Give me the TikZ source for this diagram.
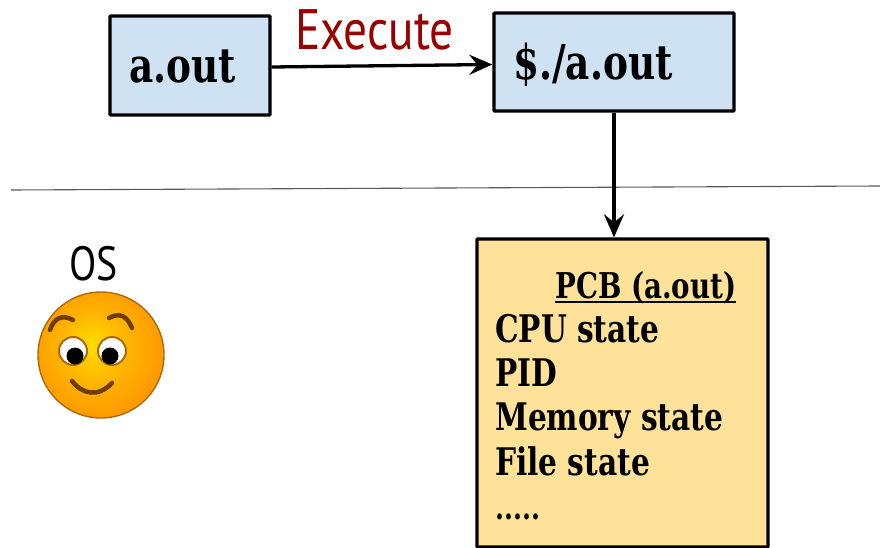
\documentclass[tikz,border=0pt]{standalone}
\usepackage{fontspec}
\usetikzlibrary{arrows.meta}
\setmainfont{DejaVu Serif}
\newfontfamily\boxfont[FakeStretch=0.78]{DejaVu Serif}
\newfontfamily\labfont[FakeStretch=0.83]{PT Sans}
\definecolor{fy}{RGB}{255,222,0}
\definecolor{fm}{RGB}{255,180,0}
\definecolor{fo}{RGB}{255,142,0}
\pgfdeclareradialshading{facesh}{\pgfpoint{-4bp}{4bp}}{
  color(0bp)=(fy); color(14bp)=(fm); color(32bp)=(fo); color(50bp)=(fo)}
\definecolor{facebrown}{RGB}{176,104,10}
\definecolor{browdark}{RGB}{112,60,0}
\definecolor{bluefill}{RGB}{207,226,243}
\definecolor{sandfill}{RGB}{255,226,153}
\definecolor{execred}{RGB}{153,0,0}
\definecolor{rulegray}{RGB}{89,89,89}
\tikzset{
  procbox/.style={draw=black,line width=3.3pt,fill=bluefill,rounded corners=0.8pt,inner sep=0pt},
  link/.style={draw=black,line width=3.3pt,-{Stealth[length=23pt,width=20pt,inset=8pt]}},
  boxtext/.style={font=\boxfont\bfseries\fontsize{48}{48}\selectfont,text=black,inner sep=0pt,anchor=base west},
  pcbtext/.style={font=\boxfont\bfseries\fontsize{38}{38}\selectfont,text=black,inner sep=0pt,anchor=base west},
  lab/.style={font=\labfont\fontsize{57}{57}\selectfont,inner sep=0pt,anchor=base west},
  eyewhite/.style={draw=facebrown,line width=2pt,fill=white},
  stroke/.style={draw=browdark,line width=4.5pt,line cap=round}
}
\begin{document}
\begin{tikzpicture}[x=1pt,y=-1pt]
\useasboundingbox (0,0) rectangle (880,548);
\clip (0,0) rectangle (880,548);
\draw[rulegray,line width=1.1pt] (11,190) coordinate (ra) -- (880,186) coordinate (rb);
\node[procbox,minimum width=160pt,minimum height=99pt] (a) at (190,65.5) {};
\node[procbox,minimum width=240pt,minimum height=98pt] (b) at (614,62) {};
\node[procbox,fill=sandfill,minimum width=291pt,minimum height=308pt] (pcb) at (622.5,393) {};
\node[boxtext] (at) at (129,83) {a.out};
\node[boxtext] (bt) at (513,80) {\$./a.out};
\node[lab,text=execred] (ex) at (295,50) {Execute};
\draw[link] ([yshift=-1.5pt]a.east) -- ([yshift=-2.5pt]b.west);
\draw[link] (b.south) -- (b.south |- pcb.north);
\node[pcbtext,font=\boxfont\bfseries\fontsize{35.5}{35.5}\selectfont] (p0) at (555,298) {PCB (a.out)};
\draw[black,line width=2.6pt] ([yshift=-4pt]p0.base west) -- ([yshift=-4pt]p0.base east);
\node[pcbtext] (p1) at (495,342) {CPU state};
\node[pcbtext] (p2) at (495,386) {PID};
\node[pcbtext] (p3) at (495,430) {Memory state};
\node[pcbtext] (p4) at (495,475) {File state};
\node[pcbtext,font=\boxfont\bfseries\fontsize{33}{33}\selectfont] (p5) at (495,519) {.....};
\node[lab,text=black,font=\labfont\fontsize{48}{48}\selectfont] (os) at (69,280) {OS};
% face
\shade[shading=facesh] (101,355) circle[radius=63pt];
\draw[facebrown,line width=1.4pt] (101,355) circle[radius=63pt];
\draw[eyewhite] (73,351) circle[radius=14pt];
\draw[eyewhite] (112,351) circle[radius=14pt];
\fill[black] (75,356) circle[radius=8.5pt];
\fill[black] (110,356) circle[radius=8.5pt];
\draw[stroke] (50,330) .. controls (54,318) and (62,314) .. (73,320);
\draw[stroke] (109,318) .. controls (120,312) and (127,316) .. (132,328);
\draw[stroke] (72,381) .. controls (82,394) and (98,398) .. (112,383);
\end{tikzpicture}
\end{document}
